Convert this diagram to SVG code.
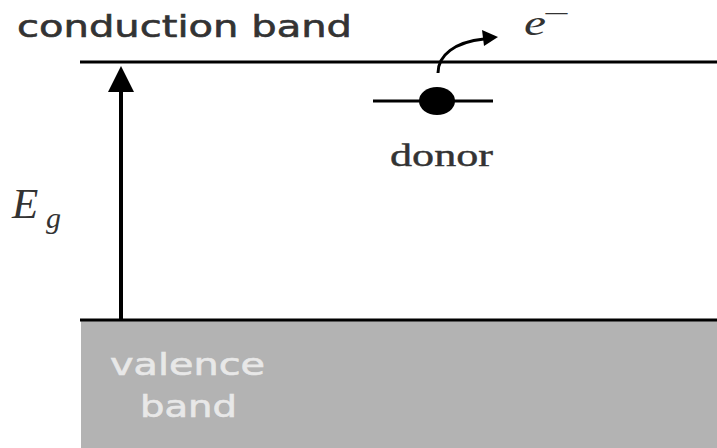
<svg xmlns="http://www.w3.org/2000/svg" width="717" height="448" viewBox="0 0 717 448">
<style>
.band{stroke:#000;stroke-width:3;fill:none}
.sans{font-family:"DejaVu Sans","Liberation Sans",sans-serif}
.serif{font-family:"Liberation Serif","DejaVu Serif",serif}
</style>
<rect width="717" height="448" fill="#fff"/>
<g id="valence">
<rect x="81" y="320" width="636" height="128" fill="#b3b3b3"/>
<line class="band" x1="80" y1="320" x2="717" y2="320"/>
<text class="sans" x="110" y="375" font-size="30" fill="#e8e8e8" stroke="#e8e8e8" stroke-width="0.6" textLength="155" lengthAdjust="spacingAndGlyphs">valence</text>
<text class="sans" x="140" y="417" font-size="30" fill="#e8e8e8" stroke="#e8e8e8" stroke-width="0.6" textLength="97" lengthAdjust="spacingAndGlyphs">band</text>
</g>
<g id="conduction">
<line class="band" x1="80" y1="62" x2="717" y2="62"/>
<text class="sans" x="17" y="37" font-size="31" fill="#333" stroke="#333" stroke-width="0.6" textLength="335" lengthAdjust="spacingAndGlyphs">conduction band</text>
</g>
<g id="donor">
<line x1="373" y1="101" x2="493" y2="101" stroke="#000" stroke-width="3"/>
<ellipse cx="437" cy="101" rx="18" ry="14" fill="#000"/>
<text class="serif" x="390" y="166" font-size="31" fill="#333" stroke="#333" stroke-width="0.4" textLength="103" lengthAdjust="spacingAndGlyphs">donor</text>
</g>
<g id="electron">
<text class="serif" x="524" y="35" font-size="36" font-style="italic" fill="#333" textLength="22" lengthAdjust="spacingAndGlyphs">e</text>
<text class="serif" x="543" y="21" font-size="22" fill="#333" textLength="27" lengthAdjust="spacingAndGlyphs">−</text>
</g>
<g id="gap">
<text class="serif" x="12" y="218" font-size="43" font-style="italic" fill="#333">E</text>
<text class="serif" x="46" y="228" font-size="30" font-style="italic" fill="#333">g</text>
</g>
<g id="connectors">
<line x1="121" y1="320" x2="121" y2="90" stroke="#000" stroke-width="4"/>
<path d="M108,92 L121,66 L134,92 Z" fill="#000"/>
<path d="M438,73 C438,55 455,42 484,39" stroke="#000" stroke-width="3" fill="none"/>
<path d="M498,37 L482,30 L484,46 Z" fill="#000"/>
</g>
</svg>
